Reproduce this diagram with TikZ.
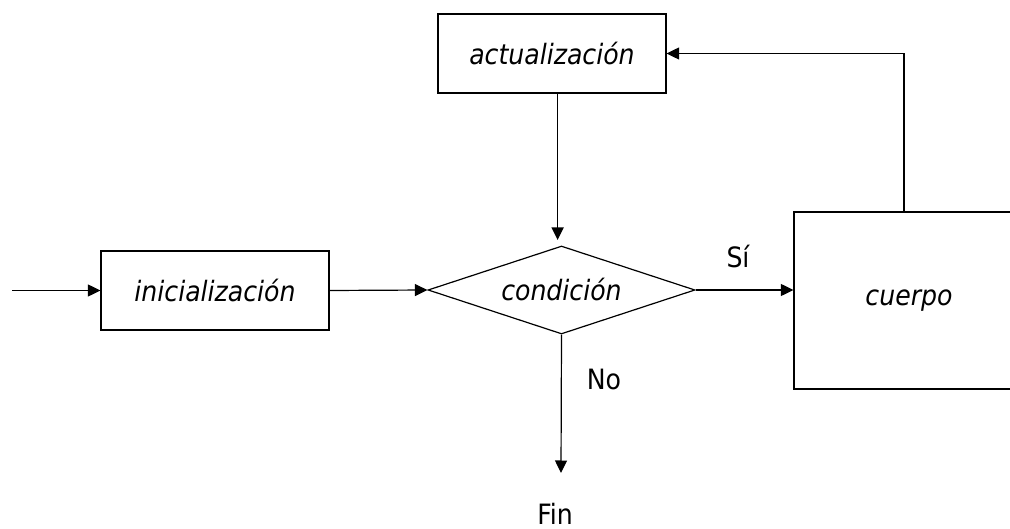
\documentclass[tikz,border=0pt]{standalone}
\usepackage{fontspec}
\setmainfont{DejaVu Sans Condensed}
\usetikzlibrary{arrows.meta,shapes.geometric}
\begin{document}
\begin{tikzpicture}[x=1pt,y=-1pt,
  line width=1.2pt,
  every node/.style={font=\fontsize{28}{31}\selectfont},
  procbox/.style={draw, rectangle, inner sep=0pt, minimum width=228pt, minimum height=79pt, font=\fontsize{28}{31}\selectfont\itshape},
  decbox/.style={draw, diamond, inner sep=0pt, aspect=3.03, minimum width=267pt, minimum height=88pt, font=\fontsize{28}{31}\selectfont\itshape},
  plain/.style={inner sep=0pt},
  flow/.style={-{Triangle[length=12.5pt,width=12pt]}}]
\useasboundingbox (0,0) rectangle (1010,529);
\clip (0,0) rectangle (1010,529);
\node[procbox] (ini) at (215,290.5) {inicialización};
\node[procbox] (act) at (552,53.5) {actualización};
\node[decbox] (cond) at (561.5,290) {condición};
\node[procbox, minimum width=230pt, minimum height=177pt] (cuer) at (909,300.5) {cuerpo};
\node[plain, anchor=base] (fin) at (555,524) {Fin};
\node[plain] (si) at (738,257) {Sí};
\node[plain] (no) at (604,379) {No};
\coordinate (start) at (12,290.5);
\coordinate (acttop) at (557.6,240);
\coordinate (finend) at (561,473);
\coordinate (loopx) at (904,0);
\draw[flow] (start) -- (ini.west);
\draw[flow] (ini.east) -- (cond.west);
\draw[flow] (act.south -| acttop) -- (acttop);
\draw[flow] (cond.east) -- (cond.east -| cuer.west);
\draw[flow] (cuer.north -| loopx) |- (act.east);
\draw[flow] (cond.south) -- (finend);
\end{tikzpicture}
\end{document}
